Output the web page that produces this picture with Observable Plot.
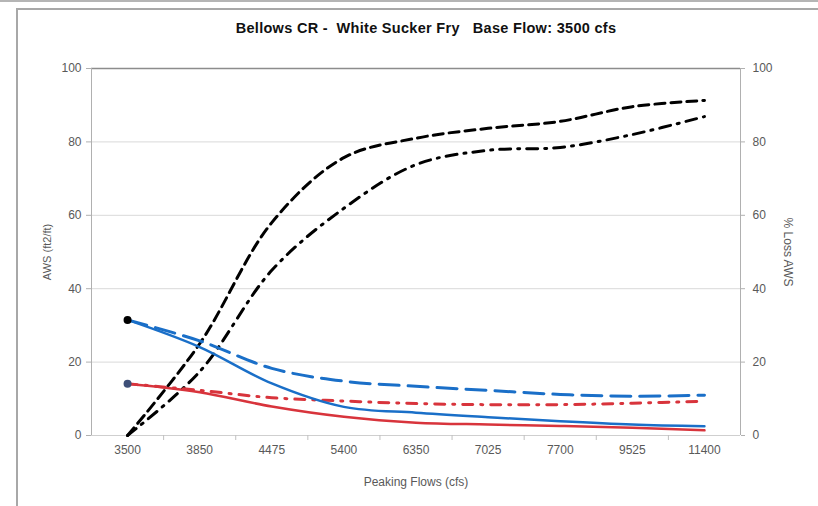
<!DOCTYPE html>
<html>
<head>
<meta charset="utf-8">
<script src="https://cdn.jsdelivr.net/npm/d3@7"></script>
<script src="https://cdn.jsdelivr.net/npm/@observablehq/plot@0.6"></script>
<style>
  html, body { margin: 0; padding: 0; background: #fff; overflow: hidden; }
  #wrap { position: relative; width: 818px; height: 506px; font-family: "Liberation Sans", Arial, sans-serif; }
  #topline { position: absolute; left: 0; top: 0; width: 818px; height: 0; border-top: 2px solid #b5b5b5; }
  #frame { position: absolute; left: 16px; top: 8px; width: 820px; height: 520px; border-left: 2px solid #a8a8a8; border-top: 2px solid #a8a8a8; pointer-events: none; }
  #title { height: 44px; box-sizing: border-box; padding-top: 20px; text-align: center; font-weight: bold; font-size: 14.5px; letter-spacing: 0.3px; white-space: pre; color: #111; padding-left: 34px; }
  svg { display: block; }
</style>
</head>
<body>
<div id="wrap">
  <div id="title">Bellows CR -  White Sucker Fry   Base Flow: 3500 cfs</div>
  <div id="chart"></div>
  <div id="topline"></div>
  <div id="frame"></div>
</div>
<script>
const categories = ["3500", "3850", "4475", "5400", "6350", "7025", "7700", "9525", "11400"];
const awsBlueSolid  = [31.5, 24.1, 14.2, 7.8, 6.2, 5.0, 3.9, 3.0, 2.5];
const awsBlueDashed = [31.5, 25.8, 18.3, 14.8, 13.4, 12.3, 11.2, 10.7, 11.0];
const awsRedSolid   = [14.1, 11.8, 7.9, 5.1, 3.5, 3.0, 2.6, 2.1, 1.4];
const awsRedDashDot = [14.1, 12.3, 10.3, 9.4, 8.7, 8.4, 8.4, 8.8, 9.3];
const lossDashed    = [0, 25, 58, 75.7, 81, 83.7, 85.6, 89.6, 91.3];
const lossDashDot   = [0, 17.4, 45, 61.9, 73.8, 77.7, 78.5, 82, 86.9];
const leftTicks  = [0, 20, 40, 60, 80, 100];
const rightTicks = [0, 20, 40, 60, 80, 100];
const xTitle = "Peaking Flows (cfs)";
const yLeftTitle = "AWS (ft2/ft)";
const yRightTitle = "% Loss AWS";

const idx = categories.map((_, i) => i);
const bounds = d3.range(categories.length - 1).map(i => i + 0.5);
const ser = (vals) => vals.map((v, i) => ({i, v}));
const tickColor = "#595959";

const chart = Plot.plot({
  width: 818,
  height: 462,
  marginLeft: 91,
  marginRight: 78,
  marginTop: 24,
  marginBottom: 71,
  style: {fontFamily: "Liberation Sans, Arial, sans-serif", background: "transparent"},
  x: {type: "linear", domain: [-0.5, categories.length - 0.5]},
  y: {type: "linear", domain: [0, 100]},
  marks: [
    Plot.gridY(leftTicks.filter(t => t > 0 && t < 100), {stroke: "#d9d9d9", strokeOpacity: 1}),
    Plot.ruleY([0], {stroke: "#cfcfcf"}),
    Plot.ruleY([100], {stroke: "#8c8c8c", strokeWidth: 1.5}),
    Plot.ruleX([-0.5, categories.length - 0.5], {stroke: "#b0b0b0"}),
    Plot.axisY({anchor: "left", ticks: leftTicks, tickSize: 5, tickPadding: 5, label: null, fontSize: 12, color: tickColor, stroke: "#b0b0b0"}),
    Plot.axisY({anchor: "right", ticks: rightTicks, tickSize: 4, tickPadding: 8, label: null, fontSize: 12, color: tickColor, stroke: "#b0b0b0"}),
    Plot.axisX({ticks: idx, tickFormat: i => categories[i], tickSize: 0, tickPadding: 10, label: null, fontSize: 12, color: tickColor}),
    Plot.axisX({ticks: bounds, tickFormat: () => "", tickSize: 5, label: null, stroke: "#c0c0c0"}),
    Plot.text([xTitle], {frameAnchor: "bottom", dy: 50, fontSize: 12, fill: tickColor, textAnchor: "middle"}),
    Plot.text([yLeftTitle], {frameAnchor: "left", dx: -44, rotate: -90, fontSize: 11, fill: tickColor, textAnchor: "middle"}),
    Plot.text([yRightTitle], {frameAnchor: "right", dx: 47, rotate: 90, fontSize: 12, fill: tickColor, textAnchor: "middle"}),
    Plot.line(ser(lossDashed), {x: "i", y: "v", stroke: "#000", strokeWidth: 3, strokeDasharray: "10,6", curve: "catmull-rom"}),
    Plot.line(ser(lossDashDot), {x: "i", y: "v", stroke: "#000", strokeWidth: 3, strokeDasharray: "11,7,2,7", curve: "catmull-rom"}),
    Plot.line(ser(awsBlueDashed), {x: "i", y: "v", stroke: "#1a6fc8", strokeWidth: 3, strokeDasharray: "20,9", curve: "catmull-rom"}),
    Plot.line(ser(awsRedDashDot), {x: "i", y: "v", stroke: "#d8343c", strokeWidth: 3, strokeDasharray: "10,8,2,8", curve: "catmull-rom"}),
    Plot.line(ser(awsRedSolid), {x: "i", y: "v", stroke: "#d8343c", strokeWidth: 2.5, curve: "catmull-rom"}),
    Plot.line(ser(awsBlueSolid), {x: "i", y: "v", stroke: "#1a6fc8", strokeWidth: 2.5, curve: "catmull-rom"}),
    Plot.dot([awsBlueSolid[0]], {x: () => 0, y: d => d, r: 4, fill: "#000"}),
    Plot.dot([awsRedSolid[0]], {x: () => 0, y: d => d, r: 4, fill: "#3e4f78"})
  ]
});
document.getElementById("chart").appendChild(chart);
</script>
</body>
</html>
